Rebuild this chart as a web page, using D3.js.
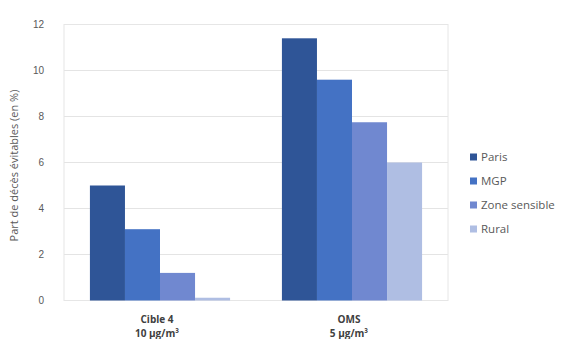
<!DOCTYPE html>
<html>
<head>
<meta charset="utf-8">
<script src="https://cdn.jsdelivr.net/npm/d3@7"></script>
<style>
  html, body { margin: 0; padding: 0; background: #fff; }
  svg { display: block; font-family: "Open Sans", "Liberation Sans", sans-serif; }
</style>
</head>
<body>
<svg id="chart" width="563" height="339"></svg>
<script>
// Scenarios (x groups), with a second line for the threshold
const categories = ["Cible 4", "OMS"];
const categorySubLabels = ["10  µg/m³", "5 µg/m³"];
// Zones (series)
const seriesNames = ["Paris", "MGP", "Zone sensible", "Rural"];
const seriesColors = ["#2F5597", "#4472C4", "#7088D0", "#AFBEE3"];
// Share of avoidable deaths (%), one array per zone: [Cible 4, OMS]
const paris = [5.0, 11.4];
const mgp = [3.1, 9.6];
const zoneSensible = [1.2, 7.75];
const rural = [0.12, 6.0];
const yTicks = [0, 2, 4, 6, 8, 10, 12];
const yTitle = "Part de décès évitables (en %)";

const seriesValues = [paris, mgp, zoneSensible, rural];

const svg = d3.select("#chart");
const margin = { left: 64, right: 115, top: 24.5, bottom: 38.5 };
const W = 563, H = 339;
const plotW = W - margin.left - margin.right;
const plotH = H - margin.top - margin.bottom;

const g = svg.append("g").attr("transform", `translate(${margin.left},${margin.top})`);

const x0 = d3.scaleBand().domain(categories).range([0, plotW])
  .paddingInner(0.27).paddingOuter(0.135);
const x1 = d3.scaleBand().domain(seriesNames).range([0, x0.bandwidth()]);
const y = d3.scaleLinear().domain([0, 12]).range([plotH, 0]);

// Horizontal gridlines
g.append("g").selectAll("line").data(yTicks).join("line")
  .attr("x1", 0).attr("x2", plotW)
  .attr("y1", d => y(d)).attr("y2", d => y(d))
  .attr("stroke", "#E4E4E4").attr("stroke-width", 1);

// Plot frame
g.append("rect").attr("x", 0).attr("y", 0).attr("width", plotW).attr("height", plotH)
  .attr("fill", "none").attr("stroke", "#E6E6E6").attr("stroke-width", 1);

// Bars
const groups = g.append("g").selectAll("g").data(categories).join("g")
  .attr("transform", d => `translate(${x0(d)},0)`);
groups.selectAll("rect")
  .data((c, ci) => seriesNames.map((s, si) => ({ s, si, v: seriesValues[si][ci] })))
  .join("rect")
  .attr("x", d => x1(d.s))
  .attr("width", x1.bandwidth())
  .attr("y", d => y(d.v))
  .attr("height", d => y(0) - y(d.v))
  .attr("fill", d => seriesColors[d.si]);

// Y axis tick labels
const yAxis = d3.axisLeft(y).tickValues(yTicks).tickSize(0).tickPadding(20);
const ya = g.append("g").call(yAxis);
ya.select(".domain").remove();
ya.selectAll("text").attr("fill", "#595959").attr("font-size", 10);

// Y axis title
svg.append("text")
  .attr("transform", `translate(18,${margin.top + plotH / 2 + 3}) rotate(-90)`)
  .attr("text-anchor", "middle")
  .attr("fill", "#595959").attr("font-size", 11)
  .text(yTitle);

// X category labels (two lines, bold)
const xl = g.append("g").selectAll("text").data(categories).join("text")
  .attr("x", d => x0(d) + x0.bandwidth() / 2 - 3)
  .attr("text-anchor", "middle")
  .attr("fill", "#404040").attr("font-size", 10).attr("font-weight", "bold");
xl.append("tspan").attr("x", d => x0(d) + x0.bandwidth() / 2 - 3).attr("y", plotH + 22).text(d => d);
xl.append("tspan").attr("x", d => x0(d) + x0.bandwidth() / 2 - 3).attr("y", plotH + 36)
  .text((d, i) => categorySubLabels[i]);

// Legend
const legend = svg.append("g").attr("transform", "translate(470,157)");
const li = legend.selectAll("g").data(seriesNames).join("g")
  .attr("transform", (d, i) => `translate(0,${i * 24})`);
li.append("rect").attr("x", 0).attr("y", -3.5).attr("width", 7).attr("height", 7)
  .attr("fill", (d, i) => seriesColors[i]);
li.append("text").attr("x", 11).attr("y", 0).attr("dy", "0.35em")
  .attr("fill", "#595959").attr("font-size", 11.5).text(d => d);
</script>
</body>
</html>
